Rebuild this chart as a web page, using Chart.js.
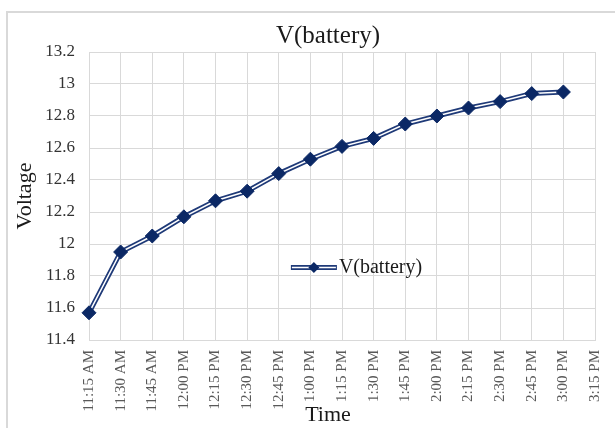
<!DOCTYPE html>
<html>
<head>
<meta charset="utf-8">
<script src="https://cdn.jsdelivr.net/npm/chart.js@4"></script>
<style>
html, body { margin: 0; padding: 0; overflow: hidden; background: #fff; }
canvas { display: block; }
</style>
</head>
<body>
<canvas id="batteryChart" width="656" height="428"></canvas>
<script>
var times = ['11:15 AM', '11:30 AM', '11:45 AM', '12:00 PM', '12:15 PM', '12:30 PM', '12:45 PM',
    '1:00 PM', '1:15 PM', '1:30 PM', '1:45 PM', '2:00 PM', '2:15 PM', '2:30 PM', '2:45 PM',
    '3:00 PM', '3:15 PM'];
var voltage = [11.57, 11.95, 12.05, 12.17, 12.27, 12.33, 12.44, 12.53, 12.61, 12.66, 12.75,
    12.80, 12.85, 12.89, 12.94, 12.95];
var voltageTicks = [11.4, 11.6, 11.8, 12, 12.2, 12.4, 12.6, 12.8, 13, 13.2];

var serif = 'Liberation Serif';
var navy = '#0b2865';
var lineBlue = '#1f3a78';
var gridGray = '#d9d9d9';

// light frame round the whole chart, like the Excel chart border
var framePlugin = {
    id: 'frame',
    beforeDraw: function (chart) {
        var ctx = chart.ctx;
        ctx.save();
        ctx.strokeStyle = gridGray;
        ctx.lineWidth = 2;
        ctx.strokeRect(7, 12, chart.width + 20, chart.height + 20);
        ctx.restore();
    }
};

// legend sits inside the plot area, so draw it by hand
var innerLegend = {
    id: 'innerLegend',
    afterDatasetsDraw: function (chart) {
        var ctx = chart.ctx;
        var area = chart.chartArea;
        var x0 = area.left + area.width * 0.399;
        var y = area.top + area.height * 0.748;
        var x1 = x0 + 46;
        ctx.save();
        ctx.lineCap = 'butt';
        ctx.strokeStyle = lineBlue;
        ctx.lineWidth = 5;
        ctx.beginPath();
        ctx.moveTo(x0, y);
        ctx.lineTo(x1, y);
        ctx.stroke();
        ctx.strokeStyle = '#ffffff';
        ctx.lineWidth = 1.5;
        ctx.beginPath();
        ctx.moveTo(x0 + 1, y);
        ctx.lineTo(x1 - 1, y);
        ctx.stroke();
        var cx = (x0 + x1) / 2, r = 5.5;
        ctx.fillStyle = navy;
        ctx.beginPath();
        ctx.moveTo(cx, y - r);
        ctx.lineTo(cx + r, y);
        ctx.lineTo(cx, y + r);
        ctx.lineTo(cx - r, y);
        ctx.closePath();
        ctx.fill();
        ctx.fillStyle = '#1a1a1a';
        ctx.font = '20px "' + serif + '"';
        ctx.textBaseline = 'middle';
        ctx.textAlign = 'left';
        ctx.fillText('V(battery)', x1 + 2, y);
        ctx.restore();
    }
};

var ctx = document.getElementById('batteryChart').getContext('2d');

var data = {
    labels: times,
    datasets: [
        {
            label: 'V(battery)',
            data: voltage,
            showLine: false,
            pointStyle: 'rectRot',
            pointRadius: 7,
            pointBackgroundColor: navy,
            pointBorderColor: navy,
            pointBorderWidth: 1,
            clip: false,
            order: 0,
        },
        {
            label: 'inner',
            data: voltage,
            borderColor: '#ffffff',
            borderWidth: 1.5,
            pointRadius: 0,
            tension: 0,
            order: 1,
        },
        {
            label: 'outer',
            data: voltage,
            borderColor: lineBlue,
            borderWidth: 5,
            pointRadius: 0,
            tension: 0,
            order: 2,
        },
    ],
};

var options = {
    responsive: false,
    animation: false,
    layout: { padding: 0 },
    plugins: {
        legend: { display: false },
        tooltip: { enabled: false },
        title: {
            display: true,
            text: 'V(battery)',
            color: '#1a1a1a',
            font: { family: serif, size: 25, weight: 'normal', lineHeight: 1.2 },
            padding: { top: 21, bottom: 1 },
        },
        subtitle: {
            display: true,
            position: 'bottom',
            text: 'Time',
            color: '#1a1a1a',
            font: { family: serif, size: 22, weight: 'normal', lineHeight: 0.3 },
            padding: { top: 0, bottom: 9.4 },
        },
    },
    scales: {
        x: {
            offset: false,
            grid: { color: gridGray, drawTicks: false },
            border: { color: gridGray },
            ticks: {
                color: '#595959',
                font: { family: serif, size: 15 },
                minRotation: 90,
                maxRotation: 90,
                padding: 10,
                autoSkip: false,
            },
            afterFit: function (scale) { scale.height = 72; },
        },
        y: {
            min: voltageTicks[0],
            max: voltageTicks[voltageTicks.length - 1],
            grid: { color: gridGray, drawTicks: false },
            border: { color: gridGray },
            ticks: {
                stepSize: 0.2,
                color: '#333333',
                font: { family: serif, size: 17 },
                padding: 14,
                callback: function (v) { return String(Math.round(v * 10) / 10); },
            },
            title: {
                display: true,
                text: 'Voltage',
                color: '#1a1a1a',
                font: { family: serif, size: 22, weight: 'normal', lineHeight: 1.2 },
                padding: { top: 12, bottom: 0 },
            },
            afterFit: function (scale) { scale.width = 89; },
        },
        // empty right-hand axis that only reserves space
        spacer: {
            type: 'linear',
            position: 'right',
            grid: { display: false },
            border: { display: false },
            ticks: { display: false },
            afterFit: function (scale) { scale.width = 61; },
        },
    },
};

var config = {
    type: 'line',
    data: data,
    options: options,
    plugins: [framePlugin, innerLegend],
};

var batteryChart = new Chart(ctx, config);
</script>
</body>
</html>
